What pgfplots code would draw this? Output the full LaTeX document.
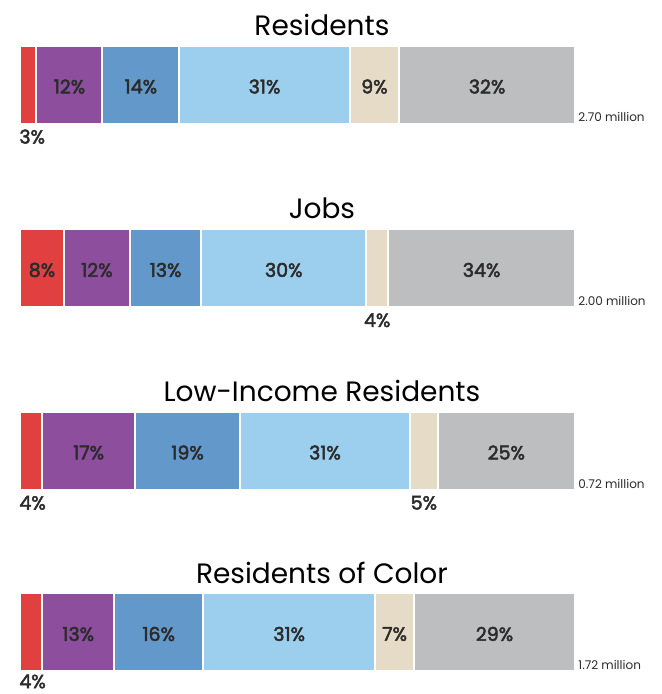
\documentclass[border=0pt]{standalone}
\usepackage{fontspec}
\setmainfont{Poppins}
\newfontfamily\medfont{Poppins}[FakeBold=2.5]
\usepackage{pgfplots}
\pgfplotsset{compat=1.18}
\definecolor{cred}{HTML}{E0403F}
\definecolor{cpur}{HTML}{8C4E9D}
\definecolor{cblu}{HTML}{6399CA}
\definecolor{clbl}{HTML}{9CCFEE}
\definecolor{cbei}{HTML}{E6DBC6}
\definecolor{cgry}{HTML}{BDBEC0}
\definecolor{ctxt}{HTML}{2B2B2B}
\pgfplotsset{
  common/.style={hide axis, scale only axis, width=277.5pt, height=39pt,
    xmin=0, ymin=-0.5, ymax=0.5, clip=false, anchor=north west, enlargelimits=false},
  barax/.style={common, xbar stacked, bar width=39pt},
  seg/.style={fill=#1, draw=white, line width=1pt},
  lab/.style={only marks, mark=none,
    nodes near coords, point meta=explicit symbolic,
    every node near coord/.append style={font=\fontsize{9.5}{10}\selectfont\medfont, text=ctxt, anchor=center, yshift=-1pt, inner sep=0pt}},
  labbelow/.style={only marks, mark=none,
    nodes near coords, point meta=explicit symbolic,
    every node near coord/.append style={font=\fontsize{9.5}{10}\selectfont\medfont, text=ctxt, anchor=base, inner sep=0pt}},
  labbelowleft/.style={labbelow, every node near coord/.append style={anchor=base west, xshift=-0.5pt}},
}
\tikzset{
  ttl/.style={anchor=base, font=\fontsize{14}{14}\selectfont, text=black, inner sep=0pt, yshift=5pt},
  tot/.style={anchor=base west, font=\fontsize{6}{6}\selectfont, text=ctxt, inner sep=0pt, xshift=1.5pt, yshift=0.8pt},
}
\begin{document}
\begin{tikzpicture}
\useasboundingbox (0,0) rectangle (330.5pt,-347pt);
% ---------------- Residents
\begin{axis}[barax, at={(10pt,-22.8pt)}, xmax=101]
\addplot[seg=cred] coordinates {(3,0)};
\addplot[seg=cpur] coordinates {(12,0)};
\addplot[seg=cblu] coordinates {(14,0)};
\addplot[seg=clbl] coordinates {(31,0)};
\addplot[seg=cbei] coordinates {(9,0)};
\addplot[seg=cgry] coordinates {(32,0)};
\end{axis}
\begin{axis}[common, at={(10pt,-22.8pt)}, xmax=101]
\addplot[lab] coordinates {(9,0) [12\%] (22,0) [14\%] (44.5,0) [31\%] (64.5,0) [9\%] (85,0) [32\%]};
\addplot[labbelowleft] coordinates {(0,-0.756) [3\%]};
\node[tot] at (rel axis cs:1,0) {2.70 million};
\node[ttl] at (rel axis cs:0.544,1) {Residents};
\end{axis}
% ---------------- Jobs
\begin{axis}[barax, at={(10pt,-114.5pt)}, xmax=101]
\addplot[seg=cred] coordinates {(8,0)};
\addplot[seg=cpur] coordinates {(12,0)};
\addplot[seg=cblu] coordinates {(13,0)};
\addplot[seg=clbl] coordinates {(30,0)};
\addplot[seg=cbei] coordinates {(4,0)};
\addplot[seg=cgry] coordinates {(34,0)};
\end{axis}
\begin{axis}[common, at={(10pt,-114.5pt)}, xmax=101]
\addplot[lab] coordinates {(4,0) [8\%] (14,0) [12\%] (26.5,0) [13\%] (48,0) [30\%] (84,0) [34\%]};
\addplot[labbelow] coordinates {(65,-0.756) [4\%]};
\node[tot] at (rel axis cs:1,0) {2.00 million};
\node[ttl] at (rel axis cs:0.544,1) {Jobs};
\end{axis}
% ---------------- Low-Income Residents
\begin{axis}[barax, at={(10pt,-205.8pt)}, xmax=101]
\addplot[seg=cred] coordinates {(4,0)};
\addplot[seg=cpur] coordinates {(17,0)};
\addplot[seg=cblu] coordinates {(19,0)};
\addplot[seg=clbl] coordinates {(31,0)};
\addplot[seg=cbei] coordinates {(5,0)};
\addplot[seg=cgry] coordinates {(25,0)};
\end{axis}
\begin{axis}[common, at={(10pt,-205.8pt)}, xmax=101]
\addplot[lab] coordinates {(12.5,0) [17\%] (30.5,0) [19\%] (55.5,0) [31\%] (88.5,0) [25\%]};
\addplot[labbelowleft] coordinates {(0,-0.756) [4\%]};
\addplot[labbelow] coordinates {(73.5,-0.756) [5\%]};
\node[tot] at (rel axis cs:1,0) {0.72 million};
\node[ttl] at (rel axis cs:0.544,1) {Low-Income Residents};
\end{axis}
% ---------------- Residents of Color
\begin{axis}[barax, at={(10pt,-296.5pt)}, xmax=100]
\addplot[seg=cred] coordinates {(4,0)};
\addplot[seg=cpur] coordinates {(13,0)};
\addplot[seg=cblu] coordinates {(16,0)};
\addplot[seg=clbl] coordinates {(31,0)};
\addplot[seg=cbei] coordinates {(7,0)};
\addplot[seg=cgry] coordinates {(29,0)};
\end{axis}
\begin{axis}[common, at={(10pt,-296.5pt)}, xmax=100]
\addplot[lab] coordinates {(10.5,0) [13\%] (25,0) [16\%] (48.5,0) [31\%] (67.5,0) [7\%] (85.5,0) [29\%]};
\addplot[labbelowleft] coordinates {(0,-0.72) [4\%]};
\node[tot] at (rel axis cs:1,0) {1.72 million};
\node[ttl] at (rel axis cs:0.544,1) {Residents of Color};
\end{axis}
\end{tikzpicture}
\end{document}
